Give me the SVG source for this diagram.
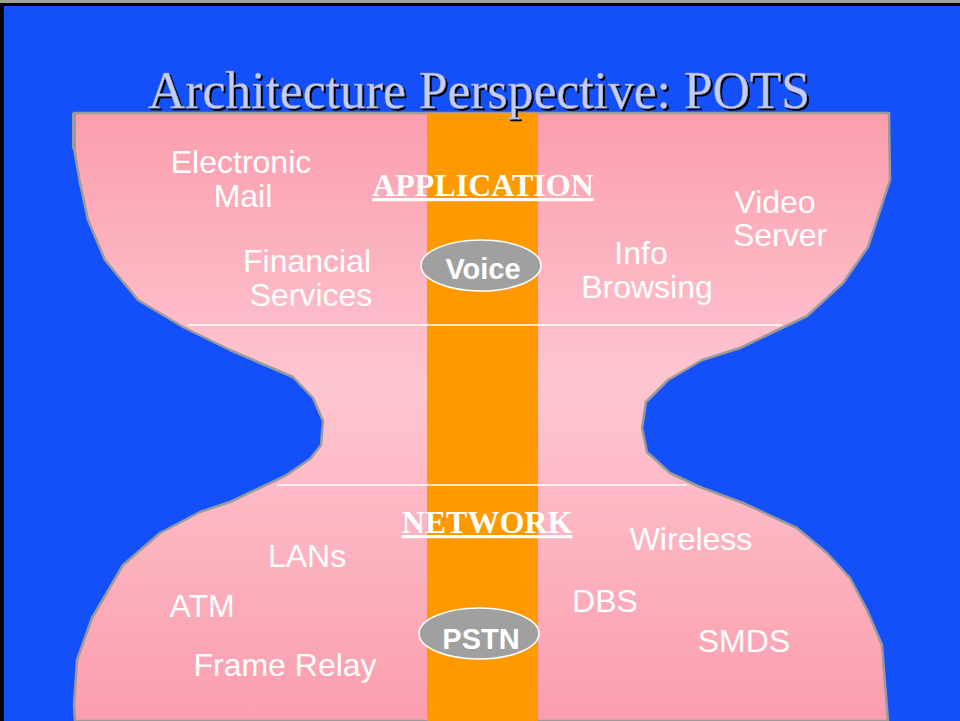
<svg xmlns="http://www.w3.org/2000/svg" width="960" height="721" viewBox="0 0 960 721">
<defs>
<linearGradient id="pink" gradientUnits="userSpaceOnUse" x1="0" y1="113" x2="0" y2="721">
<stop offset="0" stop-color="#FB9EAE"/>
<stop offset="0.45" stop-color="#FEC6D0"/>
<stop offset="1" stop-color="#FB9EAE"/>
</linearGradient>
<filter id="shadow" x="-5%" y="-20%" width="110%" height="140%">
<feDropShadow dx="2" dy="2" stdDeviation="0" flood-color="#000000" flood-opacity="1"/>
</filter>
<style>
.lbl{font-family:"Liberation Sans",Arial,sans-serif;font-size:32px;fill:#FFFFFF;text-anchor:middle}
.hdr{font-family:"Liberation Serif","Times New Roman",serif;font-size:32px;font-weight:bold;fill:#FFFFFF;text-anchor:middle;text-decoration:underline}
.oval{fill:#A0A0A0;stroke:#FFFFFF;stroke-width:1.5}
.ovt{font-family:"Liberation Sans",Arial,sans-serif;font-size:29px;font-weight:bold;fill:#FFFFFF;text-anchor:middle}
.sep{stroke:#FFFFFF;stroke-width:1.5}
</style>
</defs>
<rect x="0" y="0" width="960" height="721" fill="#1350FA"/>
<rect x="0" y="0" width="960" height="3" fill="#A0A0A0"/>
<rect x="0" y="3" width="960" height="3" fill="#000000"/>
<rect x="0" y="3" width="4" height="718" fill="#000000"/>

<g id="hourglass">
<path d="M74,113 L889,113 L890,180 L868,247 L843,283 L807,316 L740,348 L702,360 L668,380 L646,402 L642,428 L647,452 L670,473 L700,487 L743,503 L797,528 L827,553 L850,578 L867,610 L882,645 L888,721 L75,721 L74,705 L77,660 L92,618 L123,565 L160,533 L200,512 L230,502 L285,476 L310,459 L321,445 L323,421 L313,398 L293,377 L230,350 L183,327 L138,300 L105,260 L88,220 L80,183 L74,148 Z" fill="url(#pink)" stroke="#9A9A9A" stroke-width="2.5" stroke-linejoin="round"/>
<rect x="72" y="113" width="4" height="36" fill="#9A9A9A"/>
</g>

<g id="column">
<rect x="427" y="113" width="111" height="608" fill="#FF9900"/>
</g>

<g id="connectors">
<line class="sep" x1="188" y1="325" x2="782" y2="325"/>
<line class="sep" x1="277" y1="485" x2="687" y2="485"/>
</g>

<g id="title">
<text x="148" y="108" font-family="'Liberation Serif','Times New Roman',serif" font-size="52" textLength="662" lengthAdjust="spacingAndGlyphs" fill="#C5CDF7" stroke="#8890C0" stroke-width="0.4" filter="url(#shadow)">Architecture Perspective: POTS</text>
</g>

<g id="application"><text class="hdr" x="483" y="196">APPLICATION</text></g>
<g id="network"><text class="hdr" x="487" y="533">NETWORK</text></g>

<g id="voice">
<ellipse class="oval" cx="481" cy="265.5" rx="60" ry="25.5"/>
<text class="ovt" x="483" y="279">Voice</text>
</g>
<g id="pstn">
<ellipse class="oval" cx="479" cy="633.5" rx="60" ry="25.5"/>
<text class="ovt" x="481" y="649">PSTN</text>
</g>

<g id="electronic-mail"><text class="lbl" x="241" y="173">Electronic</text><text class="lbl" x="243" y="207">Mail</text></g>
<g id="financial-services"><text class="lbl" x="307" y="272">Financial</text><text class="lbl" x="311" y="306">Services</text></g>
<g id="video-server"><text class="lbl" x="775" y="213">Video</text><text class="lbl" x="780" y="246">Server</text></g>
<g id="info-browsing"><text class="lbl" x="641" y="264">Info</text><text class="lbl" x="647" y="298">Browsing</text></g>
<g id="wireless"><text class="lbl" x="691" y="550">Wireless</text></g>
<g id="lans"><text class="lbl" x="307" y="567">LANs</text></g>
<g id="atm"><text class="lbl" x="202" y="617">ATM</text></g>
<g id="dbs"><text class="lbl" x="605" y="612">DBS</text></g>
<g id="smds"><text class="lbl" x="744" y="652">SMDS</text></g>
<g id="frame-relay"><text class="lbl" x="285" y="676">Frame Relay</text></g>
</svg>
